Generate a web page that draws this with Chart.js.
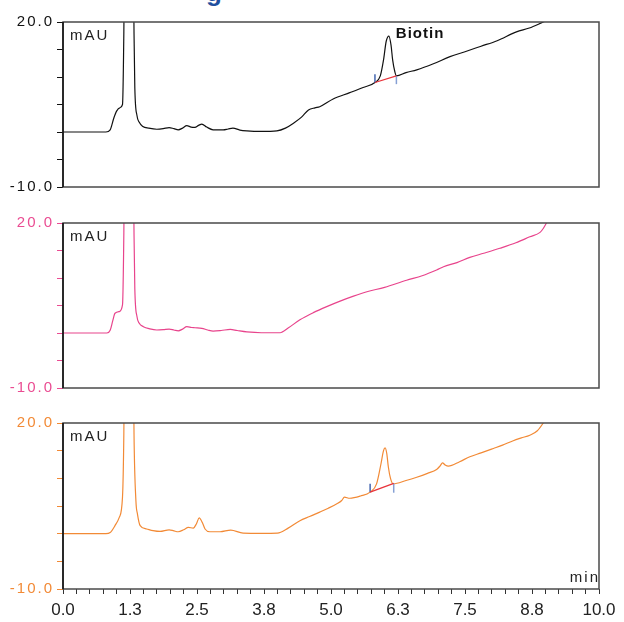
<!DOCTYPE html>
<html>
<head>
<meta charset="utf-8">
<script src="https://cdn.jsdelivr.net/npm/chart.js@4/dist/chart.umd.min.js"></script>
<style>
  body { margin: 0; background: #fff; }
  #wrap { position: relative; width: 624px; height: 622px; overflow: hidden; }
  canvas { position: absolute; left: 0; }
  #head { position: absolute; left: 206px; top: -21px; font: bold 26px/1 "Liberation Sans", Arial, sans-serif; color: #1f4f9e; }
</style>
</head>
<body>
<div id="wrap">
  <div id="head">g</div>
  <canvas id="c1" width="624" height="200" style="top:0"></canvas>
  <canvas id="c2" width="624" height="200" style="top:200px"></canvas>
  <canvas id="c3" width="624" height="222" style="top:400px"></canvas>
</div>
<script>
// retention time (min) and signal (mAU)
const timeBlack = [0, 0.8, 0.88, 0.95, 1.0, 1.06, 1.11, 1.135, 1.15, 1.23, 1.31, 1.325, 1.34, 1.38, 1.42, 1.49, 1.6, 1.75, 1.87, 1.98, 2.07, 2.15, 2.23, 2.31, 2.39, 2.46, 2.53, 2.59, 2.68, 2.8, 2.99, 3.08, 3.17, 3.3, 3.43, 3.7, 3.99, 4.15, 4.3, 4.45, 4.58, 4.7, 4.79, 5.04, 5.35, 5.6, 5.82, 5.92, 5.98, 6.03, 6.08, 6.12, 6.15, 6.19, 6.22, 6.4, 6.6, 6.91, 7.22, 7.5, 7.8, 8.1, 8.46, 8.7, 8.96, 9.2];
const mauBlack = [0, 0, 0.4, 2.6, 3.8, 4.4, 5.0, 18, 35, 80, 35, 18, 8, 3.0, 1.8, 1.0, 0.7, 0.5, 0.6, 0.8, 0.6, 0.4, 0.7, 1.15, 0.9, 0.85, 1.2, 1.45, 0.9, 0.4, 0.4, 0.55, 0.7, 0.35, 0.2, 0.1, 0.2, 0.7, 1.6, 2.7, 4.0, 4.4, 4.6, 6.0, 7.15, 8.1, 9.0, 10.2, 13.1, 16.5, 17.45, 15.8, 13.1, 11.0, 10.2, 10.8, 11.3, 12.4, 13.7, 14.6, 15.6, 16.6, 18.2, 18.9, 20.0, 21.0];

const timePink = [0, 0.82, 0.88, 0.93, 0.97, 1.05, 1.11, 1.135, 1.15, 1.23, 1.31, 1.325, 1.34, 1.38, 1.42, 1.5, 1.62, 1.75, 1.87, 1.98, 2.07, 2.15, 2.23, 2.31, 2.4, 2.46, 2.59, 2.7, 2.8, 2.95, 3.12, 3.25, 3.43, 3.7, 4.05, 4.2, 4.42, 4.67, 4.92, 5.17, 5.42, 5.67, 6.0, 6.41, 6.7, 6.97, 7.1, 7.35, 7.59, 7.85, 8.15, 8.45, 8.71, 8.9, 8.96, 9.02, 9.1];
const mauPink = [0, 0, 0.5, 2.3, 3.6, 3.9, 5.1, 18, 35, 80, 35, 18, 8, 3.0, 1.8, 1.15, 0.75, 0.55, 0.6, 0.7, 0.55, 0.4, 0.7, 1.15, 1.0, 0.95, 0.85, 0.55, 0.35, 0.45, 0.65, 0.45, 0.2, 0.05, 0.05, 0.9, 2.4, 3.7, 4.8, 5.8, 6.7, 7.5, 8.3, 9.6, 10.4, 11.45, 12.05, 12.8, 13.75, 14.5, 15.4, 16.4, 17.5, 18.3, 19.0, 20.0, 21.5];

const timeOrange = [0, 0.8, 0.88, 0.97, 1.05, 1.11, 1.135, 1.15, 1.23, 1.31, 1.325, 1.36, 1.39, 1.44, 1.56, 1.68, 1.81, 1.98, 2.07, 2.15, 2.25, 2.34, 2.43, 2.49, 2.54, 2.6, 2.65, 2.74, 2.93, 3.13, 3.36, 3.7, 4.0, 4.2, 4.42, 4.6, 4.79, 4.95, 5.11, 5.2, 5.25, 5.35, 5.55, 5.73, 5.85, 5.93, 5.98, 6.01, 6.04, 6.07, 6.11, 6.16, 6.4, 6.6, 6.8, 6.97, 7.04, 7.08, 7.13, 7.19, 7.4, 7.59, 7.8, 8.03, 8.2, 8.4, 8.55, 8.71, 8.85, 8.96, 9.05];
const mauOrange = [0, 0, 0.2, 1.45, 2.95, 6.6, 18, 35, 80, 35, 18, 6, 3.5, 1.45, 0.85, 0.55, 0.4, 0.7, 0.5, 0.35, 0.7, 1.15, 1.0, 1.8, 2.85, 2.0, 0.85, 0.35, 0.35, 0.65, 0.1, 0.05, 0.1, 1.0, 2.35, 3.1, 3.9, 4.6, 5.4, 6.0, 6.6, 6.4, 6.8, 7.5, 9.0, 12.5, 15.0, 15.5, 14.5, 12.05, 10.0, 9.0, 9.6, 10.2, 10.9, 11.6, 12.3, 12.8, 12.4, 12.2, 13.0, 13.9, 14.6, 15.4, 16.0, 16.8, 17.3, 17.8, 18.6, 20.0, 21.5];

// integration baseline of the biotin peak: [start, end] time and mAU
const baseTimeBlack = [5.82, 6.22];
const baseMauBlack = [9.0, 10.2];
const baseTimeOrange = [5.73, 6.17];
const baseMauOrange = [7.5, 9.1];
// start/end markers: [low, high] mAU
const startMarkBlack = [9.0, 10.5];
const endMarkBlack = [8.7, 10.2];
const startMarkOrange = [7.5, 9.0];
const endMarkOrange = [7.4, 9.1];

const peakName = 'Biotin';
const unitLabel = 'mAU';
const timeLabel = 'min';
const yTickValues = [-10, -5, 0, 5, 10, 15, 20];
const yTickLabels = ['-10.0', '', '', '', '', '', '20.0'];
const xTickLabels = ['0.0', '1.3', '2.5', '3.8', '5.0', '6.3', '7.5', '8.8', '10.0'];

const FONT = '"Liberation Sans", Arial, sans-serif';

function pts(xs, ys) {
  return xs.map((x, i) => ({ x: x, y: ys[i] }));
}

function traceSet(xs, ys, color) {
  return {
    data: pts(xs, ys), borderColor: color, borderWidth: 1.2,
    pointRadius: 0, cubicInterpolationMode: 'monotone', order: 2
  };
}

function segSet(xs, ys, color, w) {
  return { data: pts(xs, ys), borderColor: color, borderWidth: w, pointRadius: 0, tension: 0, order: 1 };
}

// frame, unit labels and the peak name
const panelText = {
  id: 'panelText',
  afterDatasetsDraw(chart, args, opts) {
    const { ctx, chartArea: a, scales } = chart;
    ctx.save();
    ctx.lineWidth = 1.5;
    ctx.strokeStyle = '#4a4a4a';
    ctx.strokeRect(a.left, a.top, a.right - a.left, a.bottom - a.top);
    ctx.strokeStyle = '#111';
    ctx.beginPath();
    ctx.moveTo(a.left, a.top);
    ctx.lineTo(a.left, a.bottom);
    ctx.stroke();

    ctx.letterSpacing = '2px';
    ctx.fillStyle = '#222';
    ctx.font = '15px ' + FONT;
    ctx.textBaseline = 'middle';
    ctx.fillText(unitLabel, a.left + 7, a.top + 14);
    if (opts.showMin) {
      ctx.textAlign = 'right';
      ctx.fillText(timeLabel, a.right + 1, a.bottom - 11);
    }
    if (opts.peak) {
      ctx.letterSpacing = '1px';
      ctx.textAlign = 'left';
      ctx.fillStyle = '#111';
      ctx.font = 'bold 15px ' + FONT;
      ctx.fillText(opts.peak.text, scales.x.getPixelForValue(opts.peak.x), scales.y.getPixelForValue(opts.peak.y));
    }
    ctx.restore();
  }
};

function makePanel(id, datasets, color, pad, withXAxis, textOpts) {
  const chart = new Chart(document.getElementById(id), {
    type: 'line',
    data: { datasets: datasets },
    plugins: [panelText],
    options: {
      responsive: false,
      animation: false,
      events: [],
      layout: { padding: pad },
      plugins: { legend: { display: false }, tooltip: { enabled: false }, panelText: textOpts },
      scales: {
        x: {
          type: 'linear', min: 0, max: 10,
          display: withXAxis,
          afterBuildTicks: s => {
            const t = [];
            for (let i = 0; i <= 40; i++) t.push({ value: i * 0.25 });
            s.ticks = t;
          },
          afterFit: s => { s.height = withXAxis ? 33 : 0; },
          grid: { drawOnChartArea: false, tickLength: 5, color: '#333', lineWidth: 1 },
          border: { display: false },
          ticks: {
            autoSkip: false, maxRotation: 0, padding: 6, color: '#222',
            font: { family: FONT, size: 17 },
            callback: (v, i) => (i % 5 === 0 ? xTickLabels[i / 5] : '')
          }
        },
        y: {
          min: -10, max: 20,
          afterBuildTicks: s => { s.ticks = yTickValues.map(v => ({ value: v })); },
          afterFit: s => { s.width = 63; },
          grid: { drawOnChartArea: false, tickLength: 6, color: color, lineWidth: 1 },
          border: { display: false },
          ticks: {
            padding: 3, color: color,
            font: { family: FONT, size: 15 },
            callback: (v, i) => yTickLabels[i]
          }
        }
      }
    }
  });
  // y tick labels are letter-spaced in the reference
  const ys = chart.scales.y;
  const base = ys.drawLabels;
  ys.drawLabels = function (area) {
    this.ctx.save();
    this.ctx.letterSpacing = '2px';
    base.call(this, area);
    this.ctx.restore();
  };
  chart.draw();
  return chart;
}

const RED = '#e8343c';
const BLUE1 = '#4466b0';
const BLUE2 = '#86a0d4';

makePanel('c1', [
  traceSet(timeBlack, mauBlack, '#111'),
  segSet(baseTimeBlack, baseMauBlack, RED, 1.3),
  segSet([baseTimeBlack[0], baseTimeBlack[0]], startMarkBlack, BLUE1, 1.5),
  segSet([baseTimeBlack[1], baseTimeBlack[1]], endMarkBlack, BLUE2, 1.5)
], '#111', { top: 22, bottom: 13, left: 0, right: 25 }, false,
  { peak: { text: peakName, x: 6.21, y: 17.8 } });

makePanel('c2', [
  traceSet(timePink, mauPink, '#e8448c')
], '#ea4c92', { top: 23, bottom: 12, left: 0, right: 25 }, false, {});

makePanel('c3', [
  traceSet(timeOrange, mauOrange, '#f28a36'),
  segSet(baseTimeOrange, baseMauOrange, RED, 1.3),
  segSet([baseTimeOrange[0], baseTimeOrange[0]], startMarkOrange, BLUE1, 1.5),
  segSet([baseTimeOrange[1], baseTimeOrange[1]], endMarkOrange, BLUE2, 1.5)
], '#f28a36', { top: 23, bottom: 0, left: 0, right: 25 }, true, { showMin: true });
</script>
</body>
</html>
